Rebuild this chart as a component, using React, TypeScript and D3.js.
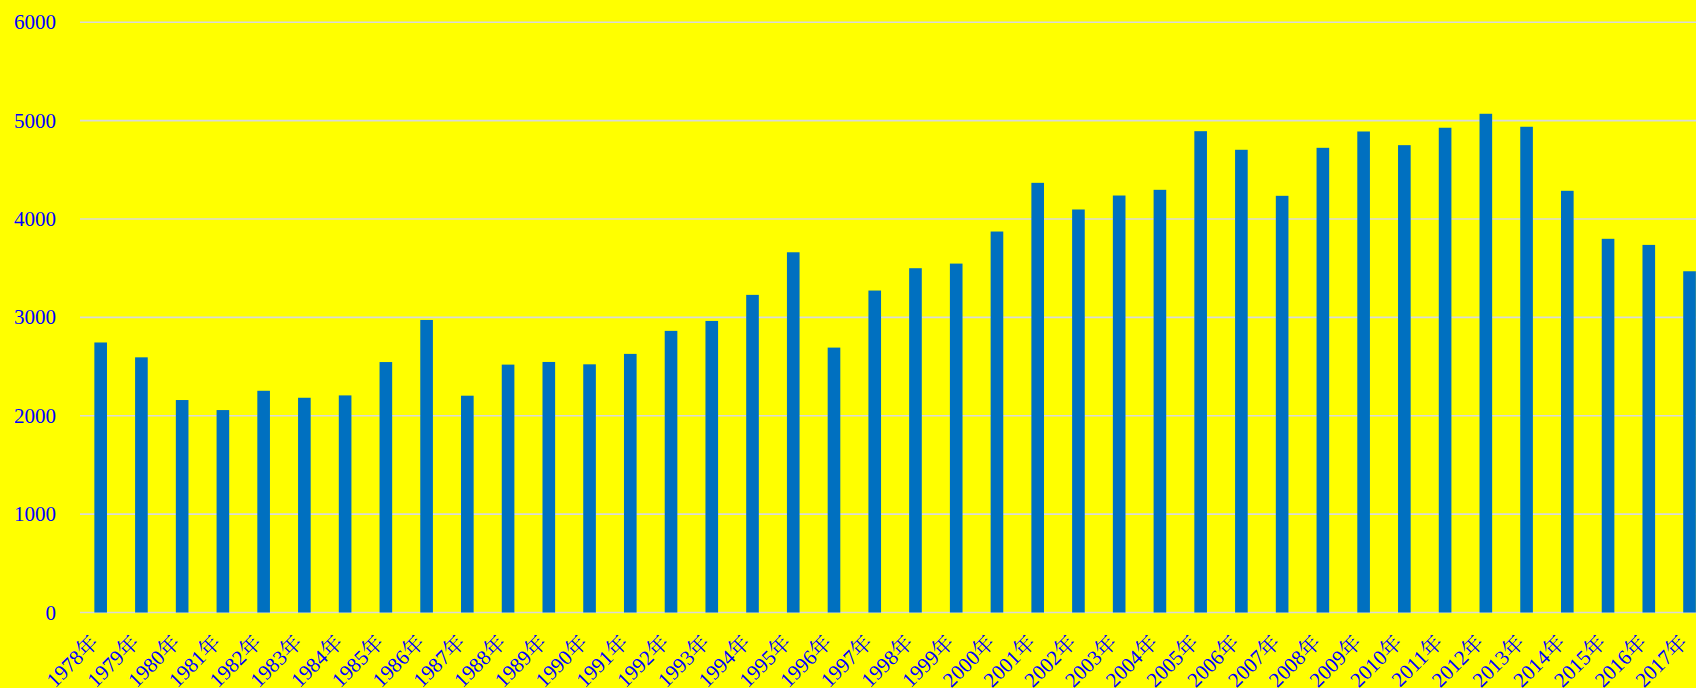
import React from "react";
import * as d3 from "d3";

const years: string[] = [
  "1978年","1979年","1980年","1981年","1982年","1983年","1984年","1985年","1986年","1987年",
  "1988年","1989年","1990年","1991年","1992年","1993年","1994年","1995年","1996年","1997年",
  "1998年","1999年","2000年","2001年","2002年","2003年","2004年","2005年","2006年","2007年",
  "2008年","2009年","2010年","2011年","2012年","2013年","2014年","2015年","2016年","2017年",
];
const values: number[] = [
  2745, 2594, 2160, 2058, 2254, 2183, 2207, 2546, 2974, 2204,
  2520, 2547, 2523, 2629, 2863, 2964, 3229, 3662, 2693, 3273,
  3500, 3547, 3873, 4368, 4097, 4239, 4297, 4893, 4704, 4236,
  4724, 4890, 4751, 4928, 5070, 4938, 4287, 3799, 3737, 3469,
];
const yTicks: number[] = [0, 1000, 2000, 3000, 4000, 5000, 6000];

const W = 1696;
const H = 688;
const FONT = "'Liberation Serif', 'Times New Roman', 'Noto Serif CJK SC', 'Noto Sans CJK SC', serif";
const TXT = "#0000ff";

export default function App() {
  const x = d3
    .scaleBand<string>()
    .domain(years)
    .range([80.3, 80.3 + 40 * 40.74])
    .paddingInner(0.69)
    .paddingOuter(0.345);
  const y = d3.scaleLinear().domain([0, 6000]).range([612.5, 22.3]);

  return (
    <svg
      width={W}
      height={H}
      style={{ position: "absolute", left: 0, top: 0, display: "block" }}
    >
      <rect x={0} y={0} width={W} height={H} fill="#ffff00" />
      {yTicks.map((t) => (
        <g key={t}>
          <line x1={80} x2={W} y1={y(t)} y2={y(t)} stroke="#d9d9d9" strokeWidth={1.6} />
          <text
            x={56}
            y={y(t)}
            textAnchor="end"
            dominantBaseline="central"
            fontFamily={FONT}
            fontSize={21}
            fill={TXT}
          >
            {t}
          </text>
        </g>
      ))}
      {years.map((yr, i) => (
        <rect
          key={yr}
          x={x(yr)}
          y={y(values[i])}
          width={x.bandwidth()}
          height={y(0) - y(values[i])}
          fill="#0070c0"
        />
      ))}
      {years.map((yr) => {
        const cx = (x(yr) as number) + x.bandwidth() / 2;
        return (
          <text
            key={"l" + yr}
            transform={`translate(${cx - 6},${639}) rotate(-45)`}
            textAnchor="end"
            dominantBaseline="central"
            fontFamily={FONT}
            fontSize={21}
            fill={TXT}
          >
            {yr}
          </text>
        );
      })}
    </svg>
  );
}
